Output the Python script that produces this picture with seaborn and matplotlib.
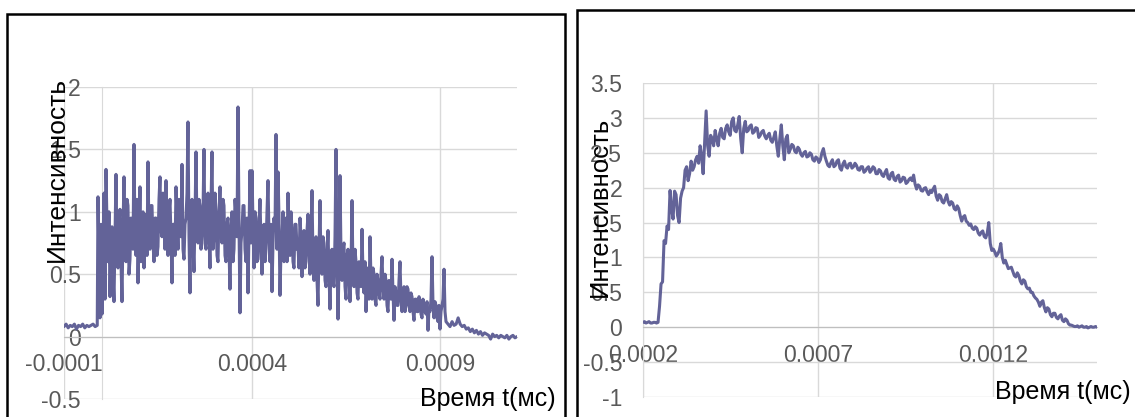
import matplotlib.pyplot as plt
import numpy as np
import pandas as pd
import seaborn as sns
from matplotlib.patches import Rectangle

sns.set_style("white")
plt.rcParams['font.family'] = ['Liberation Sans', 'DejaVu Sans']

W, H = 1135, 417
LINE = '#636398'
GRID = '#d9d9d9'
AXIS = '#bfbfbf'
TICK = '#595959'

# ---- left chart: noisy signal (three recorded stretches) ----
left_base_t = (-0.0001, -0.0000116)
left_base = [0.08, 0.1, 0.07, 0.09, 0.08, 0.1, 0.06, 0.09, 0.08, 0.1, 0.07, 0.09,
             0.08, 0.09, 0.1, 0.08, 0.09]
left_burst_t = (-0.0000096, 0.0009160)
left_burst = [1.12, 0.6, 0.15, 0.9, 0.18, 0.7, 1.15, 0.3, 1.34, 0.9,
              0.6, 1.0, 0.32, 0.75, 0.88, 0.5, 0.28, 0.8, 1.30, 0.7,
              0.55, 0.9, 1.02, 0.6, 0.28, 0.85, 1.28, 0.7, 0.6, 1.1,
              1.05, 0.5, 0.62, 0.95, 0.9, 0.7, 1.54, 0.8, 0.65, 1.1,
              0.43, 0.8, 1.2, 0.6, 0.75, 1.0, 0.55, 0.85, 0.98, 0.65,
              1.40, 0.8, 0.7, 1.05, 1.05, 0.75, 0.6, 0.95, 0.95, 0.65,
              0.72, 1.1, 1.28, 0.85, 0.8, 1.15, 1.0, 0.7, 1.25, 0.9,
              0.65, 1.0, 1.1, 0.8, 0.43, 0.9, 0.9, 0.65, 1.2, 0.95,
              0.7, 1.1, 1.05, 0.8, 1.38, 0.7, 0.62, 0.9, 0.95, 1.15,
              1.72, 0.8, 0.35, 1.0, 1.1, 0.75, 0.52, 0.95, 1.48, 0.85,
              0.75, 1.1, 1.05, 0.7, 0.82, 1.0, 1.50, 0.75, 0.7, 1.0,
              1.15, 0.8, 0.55, 1.05, 1.48, 0.7, 0.8, 1.15, 1.0, 0.65,
              0.6, 1.0, 1.2, 0.85, 0.75, 1.1, 1.05, 0.65, 0.6, 0.9,
              0.95, 0.7, 0.38, 0.85, 1.0, 0.6, 0.7, 1.1, 0.98, 0.8,
              1.84, 0.9, 0.19, 0.75, 0.85, 1.05, 1.05, 0.7, 0.6, 0.95,
              0.35, 0.85, 1.33, 0.75, 1.33, 0.9, 0.55, 1.0, 0.95, 0.6,
              0.62, 0.9, 1.1, 0.75, 0.5, 0.85, 0.9, 0.6, 0.7, 1.0,
              1.25, 0.8, 0.6, 0.9, 0.36, 0.75, 0.95, 0.85, 1.62, 0.7,
              1.32, 0.95, 0.33, 0.7, 0.8, 1.0, 0.6, 0.85, 0.95, 0.6,
              1.15, 0.8, 0.65, 1.0, 0.85, 0.6, 0.55, 0.9, 0.9, 0.7,
              0.72, 0.55, 0.95, 0.8, 0.48, 0.75, 0.85, 0.55, 0.6, 0.85,
              0.98, 0.7, 0.5, 0.8, 1.17, 0.6, 0.45, 0.7, 0.8, 0.45,
              0.25, 0.7, 1.09, 0.55, 0.5, 0.8, 0.75, 0.45, 0.4, 0.65,
              0.85, 0.5, 0.22, 0.6, 0.7, 0.45, 0.4, 0.8, 1.50, 0.6,
              0.14, 0.55, 1.29, 0.65, 0.45, 0.7, 0.75, 0.4, 0.3, 0.65,
              0.7, 0.5, 0.28, 0.55, 1.09, 0.5, 0.4, 0.7, 0.6, 0.35,
              0.3, 0.6, 0.55, 0.4, 0.86, 0.5, 0.35, 0.6, 0.2, 0.45,
              0.55, 0.3, 0.8, 0.45, 0.3, 0.55, 0.5, 0.3, 0.25, 0.5,
              0.45, 0.35, 0.3, 0.5, 0.64, 0.4, 0.3, 0.5, 0.45, 0.25,
              0.2, 0.45, 0.38, 0.3, 0.62, 0.35, 0.13, 0.4, 0.35, 0.25,
              0.25, 0.45, 0.6, 0.3, 0.2, 0.35, 0.4, 0.2, 0.25, 0.4,
              0.38, 0.25, 0.2, 0.35, 0.32, 0.2, 0.13, 0.3, 0.3, 0.2,
              0.2, 0.32, 0.28, 0.18, 0.15, 0.3, 0.25, 0.2, 0.18, 0.28,
              0.05, 0.22, 0.2, 0.3, 0.64, 0.25, 0.15, 0.28, 0.25, 0.15,
              0.12, 0.25, 0.06, 0.2, 0.25, 0.3, 0.54, 0.2, 0.12]
left_tail_t = (0.0009213, 0.0011048)
left_tail = [0.1, 0.08, 0.12, 0.09, 0.1, 0.15, 0.1, 0.08, 0.09, 0.06,
             0.07, 0.04, 0.06, 0.03, 0.05, 0.02, 0.04, 0.01, 0.03, 0.02,
             0.01, -0.02, 0.02, 0.0, 0.01, -0.01, 0.01, 0.0, -0.01, 0.01,
             -0.02, 0.0, 0.01, -0.01, 0.0]
left_xlim = (-0.0001, 0.0011048)
left_xticks = [-0.0001, 0.0004, 0.0009]
left_xlabels = ['-0.0001', '0.0004', '0.0009']
left_yticks = [-0.5, 0, 0.5, 1, 1.5, 2]
left_ylabels = ['-0.5', '0', '0.5', '1', '1.5', '2']

# ---- right chart: smooth pulse ----
right_t = (0.0002, 0.0014974)
right_values = [0.07, 0.08, 0.06, 0.07, 0.08, 0.06, 0.06, 0.07, 0.07, 0.06,
                0.07, 0.3, 0.62, 0.65, 1.24, 1.2, 1.45, 1.4, 1.96, 1.7,
                1.55, 1.95, 1.9, 1.6, 1.5, 1.85, 1.95, 2.0, 2.25, 2.3,
                2.1, 2.2, 2.38, 2.25, 2.3, 2.4, 2.45, 2.35, 2.6, 2.45,
                2.2, 2.65, 3.1, 2.6, 2.45, 2.75, 2.7, 2.6, 2.82, 2.7,
                2.6, 2.78, 2.85, 2.72, 2.7, 2.85, 2.9, 2.8, 2.75, 2.95,
                3.0, 2.82, 2.8, 2.9, 3.02, 2.7, 2.5, 2.85, 2.95, 2.8,
                2.82, 2.88, 2.9, 2.78, 2.8, 2.86, 2.85, 2.72, 2.75, 2.8,
                2.82, 2.74, 2.7, 2.75, 2.78, 2.68, 2.65, 2.72, 2.8, 2.6,
                2.45, 2.7, 2.9, 2.6, 2.4, 2.7, 2.75, 2.5, 2.55, 2.62,
                2.6, 2.52, 2.5, 2.58, 2.55, 2.48, 2.45, 2.5, 2.52, 2.44,
                2.45, 2.5, 2.48, 2.4, 2.38, 2.44, 2.42, 2.36, 2.4, 2.5,
                2.56, 2.45, 2.38, 2.32, 2.3, 2.36, 2.4, 2.3, 2.32, 2.38,
                2.4, 2.28, 2.25, 2.34, 2.38, 2.3, 2.28, 2.34, 2.35, 2.28,
                2.3, 2.35, 2.32, 2.26, 2.25, 2.3, 2.3, 2.22, 2.24, 2.28,
                2.3, 2.22, 2.25, 2.3, 2.28, 2.2, 2.2, 2.26, 2.24, 2.18,
                2.16, 2.22, 2.26, 2.14, 2.12, 2.2, 2.22, 2.12, 2.1, 2.16,
                2.18, 2.08, 2.1, 2.15, 2.14, 2.06, 2.08, 2.12, 2.14, 2.1,
                2.18, 2.05, 1.98, 2.04, 2.02, 1.96, 1.95, 1.99, 2.0, 1.94,
                1.9, 1.96, 1.93, 1.98, 2.02, 1.88, 1.82, 1.9, 1.88, 1.8,
                1.78, 1.84, 1.9, 1.8, 1.75, 1.8, 1.78, 1.7, 1.68, 1.74,
                1.7, 1.6, 1.52, 1.58, 1.6, 1.52, 1.5, 1.46, 1.48, 1.42,
                1.4, 1.44, 1.42, 1.35, 1.32, 1.36, 1.38, 1.3, 1.28, 1.35,
                1.5, 1.2, 1.1, 1.12, 1.08, 1.02, 1.05, 1.1, 1.2, 1.0,
                0.92, 0.96, 0.9, 0.84, 0.85, 0.86, 0.8, 0.74, 0.72, 0.78,
                0.74, 0.66, 0.62, 0.68, 0.66, 0.58, 0.55, 0.56, 0.5, 0.5,
                0.45, 0.42, 0.4, 0.36, 0.3, 0.36, 0.38, 0.28, 0.22, 0.28,
                0.26, 0.18, 0.15, 0.2, 0.2, 0.14, 0.12, 0.16, 0.18, 0.1,
                0.08, 0.12, 0.1, 0.05, 0.03, 0.03, 0.02, 0.01, 0.01, 0.02,
                0.0, 0.01, 0.02, 0.0, 0.0, 0.01, -0.01, 0.0, 0.01, 0.0,
                0.0, 0.01, 0.0]
right_xlim = (0.0002, 0.0014974)
right_xticks = [0.0002, 0.0007, 0.0012]
right_xlabels = ['0.0002', '0.0007', '0.0012']
right_yticks = [-1, -0.5, 0, 0.5, 1, 1.5, 2, 2.5, 3, 3.5]
right_ylabels = ['-1', '-0.5', '0', '0.5', '1', '1.5', '2', '2.5', '3', '3.5']

ylabel = 'Интенсивность'
xlabel = 'Время t(мс)'


def segment(trange, values):
    return pd.DataFrame({'t': np.linspace(trange[0], trange[1], len(values)),
                         'v': values})


def draw(ax, df, xlim, yticks, ylabels, xticks, xlabels, yaxis_at):
    sns.lineplot(data=df, x='t', y='v', ax=ax, color=LINE, linewidth=2.2,
                 estimator=None, sort=False, zorder=3)
    ax.set_xlim(xlim)
    ax.set_ylim(yticks[0], yticks[-1])
    ax.set_xticks(xticks, xlabels)
    ax.set_yticks(yticks, ylabels)
    ax.grid(True, color=GRID, linewidth=1)
    ax.set_axisbelow(True)
    ax.spines['top'].set_visible(False)
    ax.spines['right'].set_visible(False)
    ax.spines['bottom'].set_position(('data', 0))
    ax.spines['bottom'].set_color(AXIS)
    ax.spines['left'].set_position(('data', yaxis_at))
    ax.spines['left'].set_color(GRID)
    ax.tick_params(length=0, labelsize=16.6, labelcolor=TICK)
    ax.tick_params(axis='x', pad=12)
    ax.tick_params(axis='y', pad=15)
    ax.set_xlabel('')
    ax.set_ylabel('')


left_df = pd.concat([segment(left_base_t, left_base),
                     segment(left_burst_t, left_burst),
                     segment(left_tail_t, left_tail)], ignore_index=True)
right_df = segment(right_t, right_values)

fig = plt.figure(figsize=(W / 100, H / 100), dpi=100)

ax1 = fig.add_axes([64 / W, 1 - 399 / H, (517 - 64) / W, (399 - 87) / H])
draw(ax1, left_df, left_xlim, left_yticks, left_ylabels,
     left_xticks, left_xlabels, 0.0)

ax2 = fig.add_axes([643 / W, 1 - 397 / H, (1097 - 643) / W, (397 - 83) / H])
draw(ax2, right_df, right_xlim, right_yticks, right_ylabels,
     right_xticks, right_xlabels, 0.0002)

# axis titles
fig.text(57 / W, 1 - 170 / H, ylabel, rotation=90, ha='center', va='center',
         fontsize=19, color='black')
fig.text(600 / W, 1 - 207 / H, ylabel, rotation=90, ha='center', va='center',
         fontsize=18.5, color='black')
fig.text(488 / W, 1 - 399 / H, xlabel, ha='center', va='center',
         fontsize=18, color='black')
fig.text(1063 / W, 1 - 392 / H, xlabel, ha='center', va='center',
         fontsize=18, color='black')

# chart frames
fig.add_artist(Rectangle((7 / W, -0.1), (565 - 7) / W, (417 - 14) / H + 0.1,
                         transform=fig.transFigure, fill=False,
                         edgecolor='black', linewidth=1.8))
fig.add_artist(Rectangle((577 / W, -0.1), 1.0, (417 - 10) / H + 0.1,
                         transform=fig.transFigure, fill=False,
                         edgecolor='black', linewidth=1.8))

fig.savefig('out.png', dpi=100)
